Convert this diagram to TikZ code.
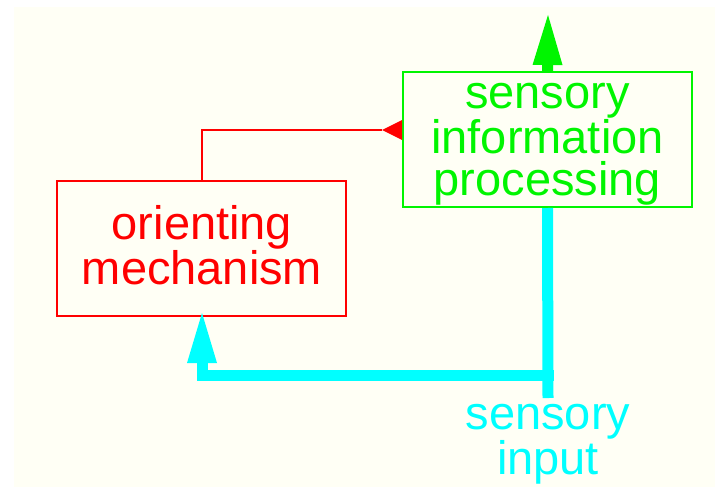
\documentclass[tikz,border=0pt]{standalone}
\usepackage{fontspec}
\setmainfont{Liberation Sans}
\usetikzlibrary{arrows.meta}
\definecolor{paper}{RGB}{255,255,245}
\definecolor{redc}{RGB}{255,0,0}
\definecolor{greenc}{RGB}{0,245,0}
\definecolor{cyanc}{RGB}{0,255,255}
\tikzset{
  box/.style={draw=#1, line width=2pt, minimum width=289pt, minimum height=135pt, inner sep=0pt},
  caption/.style={text=#1, align=center, inner sep=0pt, font=\fontsize{47}{42.5}\selectfont},
  thinarrow/.style={draw=redc, line width=2pt, -{Triangle[reversed,length=20pt,width=20pt,line width=0pt]}},
  thickarrow/.style={draw=#1, line width=11pt, -{Triangle[length=50pt,width=30pt,line width=0pt]}},
}
\begin{document}
\begin{tikzpicture}[x=1pt,y=-1pt]
  % canvas
  \useasboundingbox (0,0) rectangle (715,487);
  \fill[paper] (14,7) rectangle (715,487);

  % boxes and their captions
  \node[box=redc] (orient) at (201.5,248.5) {};
  \node[caption=redc] (orientText) at (202,245) {orienting\\mechanism};
  \node[box=greenc] (sip) at (547.5,139.5) {};
  \node[caption=greenc] (sipText) at (547.5,144.5) {sensory\\information\\processing};
  \node[caption=cyanc] (input) at (548,444) {sensory\\input};

  % helper points for the routed connectors
  \coordinate (outTip) at (548,15);
  \coordinate (inBottom) at (548,398);
  \coordinate (joint) at (548,375);
  \coordinate (orientTip) at (202,313);

  % feedback line between the orienting mechanism and the processing stage
  \draw[thinarrow] (orient.north) |- ([yshift=9.5pt]sip.west);

  % output of the processing stage
  \draw[thickarrow=greenc] (sip.north) -- (outTip);

  % sensory input line and its branch to the orienting mechanism
  \draw[draw=cyanc, line width=11pt] (sip.south) -- (inBottom);
  \draw[thickarrow=cyanc, line join=miter] ([xshift=5.5pt]joint) -| (orientTip);
\end{tikzpicture}
\end{document}
